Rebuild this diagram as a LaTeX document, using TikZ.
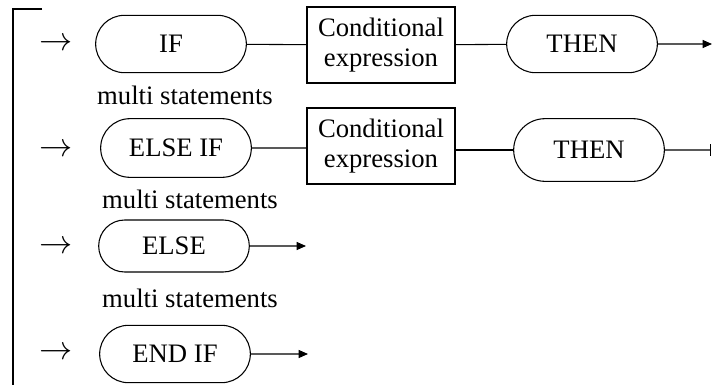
\documentclass[tikz,border=0pt]{standalone}
\usepackage{fontspec}
\setmainfont{Liberation Serif}
\usetikzlibrary{arrows.meta,shapes.misc}
\begin{document}
\begin{tikzpicture}[x=0.75pt, y=-0.75pt, line width=0.8pt,
        >={Triangle[length=7pt,width=6pt]},
        pill/.style={draw, rounded rectangle, minimum width=113pt, minimum height=43pt, inner sep=0pt, font=\fontsize{20}{22}\selectfont},
        condbox/.style={draw, rectangle, minimum width=111pt, minimum height=57pt, align=center, inner sep=0pt, font=\fontsize{20}{23}\selectfont},
        txt/.style={font=\fontsize{20}{22}\selectfont, inner sep=0pt}]
    \useasboundingbox (0,0) rectangle (713,385);
    % Bracket on the left
    \draw (42,9) -- (13,9) -- (13,385);
    % Entry arrows
    \foreach \n/\y in {a1/44, a2/150, a3/247, a4/353} {
            \node[txt, font=\fontsize{25}{25}\selectfont] (\n) at (56,\y) {$\rightarrow$};
        }
    % Row 1
    \node[pill] (if) at (171,44) {IF};
    \node[condbox] (cond1) at (381,45) {Conditional\\expression};
    \node[pill] (then1) at (582,44) {THEN};
    \coordinate (e1) at (712,44);
    \draw (if) -- (cond1);
    \draw (cond1) -- (then1);
    \draw[->] (then1) -- (e1);
    \node[txt] (ms1) at (185,95) {multi statements};
    % Row 2
    \node[pill, minimum height=44pt] (elseif) at (176,148) {ELSE IF};
    \node[condbox] (cond2) at (381,146) {Conditional\\expression};
    \node[pill, minimum height=47pt] (then2) at (589,150) {THEN};
    \coordinate (e2) at (711,150);
    \draw (elseif) -- (elseif -| cond2.west);
    \draw (cond2.east |- then2) -- (then2);
    \draw[-{Bar[width=9pt]}] (then2) -- (e2);
    \node[txt] (ms2) at (190,199) {multi statements};
    % Row 3
    \node[pill, minimum height=39pt] (else) at (174,246) {ELSE};
    \coordinate (e3) at (306,246);
    \draw[->] (else) -- (e3);
    \node[txt] (ms3) at (190,298) {multi statements};
    % Row 4
    \node[pill] (endif) at (175,354) {END IF};
    \coordinate (e4) at (308,354);
    \draw[->] (endif) -- (e4);
\end{tikzpicture}
\end{document}
